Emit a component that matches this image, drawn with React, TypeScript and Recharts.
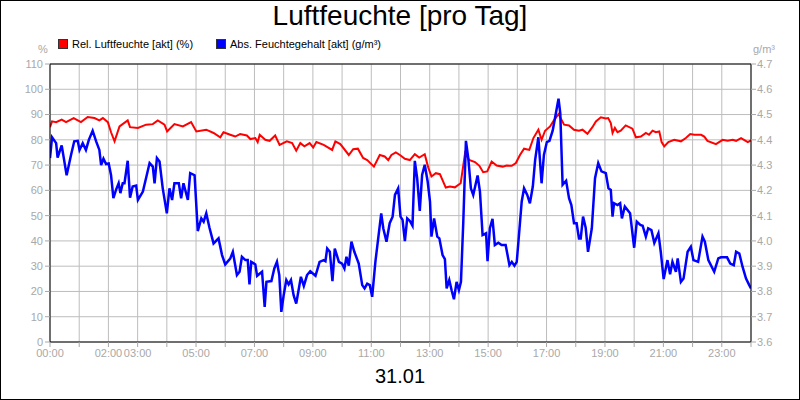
import React from 'react';
import { LineChart, Line, XAxis, YAxis, CartesianGrid, ReferenceLine } from 'recharts';

// hours of day, 0..24
const hourTicks = [0, 1, 2, 3, 4, 5, 6, 7, 8, 9, 10, 11, 12, 13, 14, 15, 16, 17, 18, 19, 20, 21, 22, 23, 24];
const labeledHours = [0, 2, 3, 5, 7, 9, 11, 13, 15, 17, 19, 21, 23];
const relTicks = [0, 10, 20, 30, 40, 50, 60, 70, 80, 90, 100, 110];
const absTicks = [3.6, 3.7, 3.8, 3.9, 4.0, 4.1, 4.2, 4.3, 4.4, 4.5, 4.6, 4.7];

// Rel. Luftfeuchte (%)
const relTimes = [
  0, 0.07, 0.21, 0.4, 0.55, 0.81, 1.06, 1.29, 1.52, 1.69, 1.81, 1.98, 2.09, 2.21, 2.38, 2.66, 2.74, 3.01, 3.29, 3.52,
  3.69, 3.92, 4.01, 4.26, 4.55, 4.83, 5.01, 5.35, 5.6, 5.83, 5.94, 6.17, 6.34, 6.51, 6.74, 6.86, 7.03, 7.11, 7.18, 7.37,
  7.52, 7.71, 7.86, 8.11, 8.29, 8.43, 8.57, 8.71, 8.89, 9.01, 9.12, 9.37, 9.66, 9.77, 9.94, 10.23, 10.38, 10.54, 10.72, 10.86,
  11.09, 11.29, 11.46, 11.58, 11.69, 11.84, 11.98, 12.15, 12.32, 12.49, 12.64, 12.83, 12.95, 13.06, 13.21, 13.35, 13.55, 13.69, 13.86, 14.06,
  14.21, 14.35, 14.55, 14.7, 14.83, 14.97, 15.12, 15.29, 15.5, 15.63, 15.81, 15.95, 16.09, 16.23, 16.41, 16.55, 16.72, 16.83, 16.95, 17.12,
  17.23, 17.41, 17.6, 17.77, 17.94, 18.11, 18.23, 18.4, 18.57, 18.69, 18.86, 19.03, 19.11, 19.2, 19.26, 19.34, 19.43, 19.54, 19.71, 19.94,
  20.06, 20.23, 20.4, 20.51, 20.63, 20.74, 20.86, 20.94, 21.03, 21.17, 21.37, 21.6, 21.77, 21.92, 22.06, 22.29, 22.4, 22.51, 22.8, 23.03,
  23.2, 23.37, 23.49, 23.66, 23.89, 24,
];
const relValues = [
  85, 87.3, 87, 88, 87, 88.6, 87, 89, 88.6, 87.7, 88.6, 87, 83, 79.4, 85.3, 87.7, 85, 84.7, 86, 86.2,
  87.7, 86, 83.3, 86.2, 85.3, 87, 83.3, 84, 82.7, 81, 83, 82, 81.3, 82.3, 81.7, 80.3, 80.7, 79.1, 82, 80,
  79.6, 81.7, 78, 79.4, 78.7, 75.7, 78.7, 77.4, 78.7, 77, 79.1, 78, 76, 79.4, 78.3, 74, 76.3, 76.5, 72.8, 72,
  69.4, 74, 73.4, 72, 74, 75, 74, 72.5, 72, 74.3, 73, 74.3, 69, 65.5, 66.8, 66.4, 61.1, 61.5, 61.2, 62.8,
  74.7, 72, 71.2, 69.7, 67.2, 67.5, 71.4, 69.8, 69.4, 69.8, 69.7, 70.8, 74, 76.5, 76, 80.7, 84, 80, 83.6, 85.3,
  87.3, 90.2, 86, 85.7, 84, 83.6, 84, 82.4, 85, 87.3, 88.9, 88.4, 88.6, 86.6, 82.7, 84.7, 83, 83.6, 85.7, 84.4,
  81, 81.3, 82.7, 82, 83.6, 83, 83.3, 79.1, 77.4, 79.1, 80, 79.4, 80.7, 82.3, 82, 82, 81.3, 79.6, 78.3, 80,
  79.6, 80, 79.6, 80.7, 79.1, 79.8,
];

// Abs. Feuchtegehalt (g/m³)
const absTimes = [
  0, 0.07, 0.21, 0.26, 0.4, 0.57, 0.72, 0.83, 0.95, 1.01, 1.12, 1.23, 1.33, 1.46, 1.58, 1.69, 1.75, 1.83, 1.92, 2.01,
  2.09, 2.17, 2.26, 2.35, 2.41, 2.49, 2.55, 2.66, 2.74, 2.83, 2.95, 3.01, 3.18, 3.41, 3.52, 3.58, 3.66, 3.75, 3.86, 4.0,
  4.09, 4.18, 4.26, 4.41, 4.49, 4.57, 4.72, 4.8, 4.95, 5.06, 5.18, 5.26, 5.35, 5.46, 5.6, 5.77, 5.89, 6.0, 6.17, 6.26,
  6.4, 6.49, 6.57, 6.69, 6.77, 6.83, 6.89, 7.03, 7.09, 7.26, 7.35, 7.41, 7.58, 7.68, 7.77, 7.85, 7.92, 8.0, 8.09, 8.17,
  8.25, 8.34, 8.43, 8.51, 8.59, 8.69, 8.8, 8.91, 9.09, 9.23, 9.37, 9.43, 9.49, 9.58, 9.67, 9.75, 9.89, 10.0, 10.08, 10.15,
  10.23, 10.32, 10.42, 10.57, 10.69, 10.77, 10.86, 10.95, 11.03, 11.14, 11.34, 11.41, 11.52, 11.63, 11.73, 11.81, 11.92, 12.0, 12.07, 12.15,
  12.23, 12.32, 12.41, 12.49, 12.57, 12.66, 12.74, 12.83, 12.93, 13.01, 13.06, 13.15, 13.26, 13.33, 13.44, 13.52, 13.58, 13.67, 13.75, 13.83,
  13.92, 14.0, 14.07, 14.15, 14.24, 14.32, 14.41, 14.49, 14.64, 14.72, 14.81, 14.93, 14.98, 15.06, 15.15, 15.23, 15.35, 15.46, 15.6, 15.73,
  15.81, 15.9, 15.98, 16.03, 16.15, 16.23, 16.34, 16.43, 16.53, 16.61, 16.72, 16.83, 16.91, 17.01, 17.1, 17.21, 17.31, 17.41, 17.47, 17.55,
  17.67, 17.77, 17.85, 17.94, 18.03, 18.11, 18.17, 18.25, 18.34, 18.42, 18.55, 18.66, 18.77, 18.88, 19.03, 19.12, 19.2, 19.26, 19.31, 19.43,
  19.52, 19.58, 19.68, 19.86, 20.0, 20.09, 20.21, 20.29, 20.4, 20.48, 20.59, 20.69, 20.83, 20.91, 21.01, 21.14, 21.23, 21.31, 21.43, 21.49,
  21.6, 21.69, 21.83, 21.94, 22.03, 22.19, 22.34, 22.42, 22.54, 22.74, 22.88, 22.97, 23.18, 23.29, 23.41, 23.49, 23.6, 23.71, 23.83, 23.94,
  24,
];
const absValues = [
  4.328, 4.41, 4.387, 4.33, 4.378, 4.26, 4.34, 4.394, 4.396, 4.36, 4.387, 4.36, 4.4, 4.436, 4.394, 4.36, 4.3, 4.325, 4.304, 4.306,
  4.26, 4.169, 4.202, 4.228, 4.189, 4.228, 4.228, 4.317, 4.171, 4.215, 4.219, 4.162, 4.195, 4.308, 4.294, 4.228, 4.328, 4.314, 4.208, 4.109,
  4.208, 4.162, 4.228, 4.228, 4.169, 4.228, 4.162, 4.268, 4.26, 4.039, 4.089, 4.076, 4.109, 4.052, 3.99, 4.01, 3.944, 3.907, 3.93, 3.957,
  3.865, 3.878, 3.937, 3.924, 3.924, 3.828, 3.917, 3.907, 3.862, 3.878, 3.739, 3.838, 3.841, 3.891, 3.917, 3.865, 3.719, 3.785, 3.845, 3.828,
  3.845, 3.785, 3.752, 3.805, 3.858, 3.822, 3.865, 3.88, 3.862, 3.917, 3.924, 3.92, 3.97, 3.957, 3.841, 3.97, 3.917, 3.91, 3.891, 3.937,
  3.902, 3.997, 3.957, 3.91, 3.825, 3.812, 3.831, 3.825, 3.779, 3.917, 4.109, 4.05, 3.997, 4.07, 4.096, 4.182, 4.208, 4.096, 4.083, 3.999,
  4.089, 4.079, 4.06, 4.317, 4.248, 4.119, 4.261, 4.301, 4.235, 4.156, 4.017, 4.089, 4.017, 4.01, 3.944, 3.928, 3.812, 3.845, 3.805, 3.769,
  3.838, 3.805, 3.838, 4.076, 4.396, 4.328, 4.208, 4.182, 4.259, 4.195, 4.023, 4.03, 3.92, 4.05, 4.087, 3.984, 3.993, 3.984, 3.984, 3.904,
  3.917, 3.902, 3.917, 3.986, 4.156, 4.208, 4.182, 4.149, 4.215, 4.321, 4.41, 4.228, 4.34, 4.391, 4.396, 4.436, 4.499, 4.563, 4.506, 4.222,
  4.238, 4.169, 4.142, 4.07, 4.07, 4.01, 4.01, 4.096, 4.052, 3.957, 4.05, 4.248, 4.308, 4.275, 4.268, 4.208, 4.202, 4.096, 4.149, 4.142,
  4.149, 4.089, 4.136, 4.109, 3.973, 4.076, 4.063, 4.06, 4.017, 4.05, 4.043, 3.992, 4.03, 3.957, 3.849, 3.924, 3.868, 3.917, 3.878, 3.931,
  3.838, 3.851, 3.957, 3.977, 3.924, 3.917, 4.017, 3.997, 3.924, 3.878, 3.931, 3.935, 3.935, 3.91, 3.904, 3.957, 3.95, 3.898, 3.851, 3.825,
  3.812,
];

const relData = relTimes.map((t, i) => ({ t, rel: relValues[i] }));
const absData = absTimes.map((t, i) => ({ t, abs: absValues[i] }));

const font = 'Liberation Sans, Arial, Helvetica, sans-serif';
const tickStyle = { fill: '#a8a8a8', fontSize: 11, fontFamily: font };
const gridColor = '#bdbdbd';

const fmtHour = (h: number) => (labeledHours.includes(h) ? `${String(h).padStart(2, '0')}:00` : '');

const LegendItem = ({ color, label, left }: { color: string; label: string; left: number }) => (
  <div style={{ position: 'absolute', left, top: 38, display: 'flex', alignItems: 'center', fontSize: 11, fontFamily: font, color: '#000' }}>
    <span style={{ width: 8, height: 8, background: color, border: '1px solid #333', marginRight: 4, display: 'inline-block' }} />
    {label}
  </div>
);

export default function App() {
  return (
    <div style={{ position: 'absolute', left: 0, top: 0, width: 800, height: 400, background: '#fff', fontFamily: font }}>
      <LineChart width={800} height={400} margin={{ top: 64, right: 0, bottom: 28, left: 0 }}>
        <CartesianGrid yAxisId="left" stroke={gridColor} strokeWidth={1} />
        <XAxis
          dataKey="t"
          type="number"
          domain={[0, 24]}
          ticks={hourTicks}
          interval={0}
          tickFormatter={fmtHour}
          tick={tickStyle}
          tickSize={5}
          tickMargin={2}
          height={30}
          axisLine={{ stroke: '#000' }}
          tickLine={{ stroke: '#a8a8a8' }}
          allowDataOverflow
        />
        <YAxis
          yAxisId="left"
          domain={[0, 110]}
          ticks={relTicks}
          interval={0}
          width={50}
          tick={tickStyle}
          tickSize={5}
          tickMargin={2}
          axisLine={{ stroke: '#000' }}
          tickLine={{ stroke: '#a8a8a8' }}
        />
        <YAxis
          yAxisId="right"
          orientation="right"
          domain={[3.6, 4.7]}
          ticks={absTicks}
          interval={0}
          width={49}
          tick={tickStyle}
          tickSize={5}
          tickMargin={1}
          tickFormatter={(v: number) => v.toFixed(1)}
          axisLine={{ stroke: '#000' }}
          tickLine={{ stroke: '#a8a8a8' }}
        />
        <ReferenceLine yAxisId="left" y={110} stroke="#000" strokeWidth={1} />
        <Line
          yAxisId="left"
          data={relData}
          dataKey="rel"
          type="linear"
          stroke="#ff0000"
          strokeWidth={2}
          dot={false}
          isAnimationActive={false}
        />
        <Line
          yAxisId="right"
          data={absData}
          dataKey="abs"
          type="linear"
          stroke="#0000ff"
          strokeWidth={2.5}
          dot={false}
          isAnimationActive={false}
        />
      </LineChart>

      <div style={{ position: 'absolute', left: 0, top: 0, width: 800, textAlign: 'center', fontSize: 28, color: '#000' }}>
        Luftfeuchte [pro Tag]
      </div>
      <LegendItem color="#ff0000" label="Rel. Luftfeuchte [akt] (%)" left={58} />
      <LegendItem color="#0000ff" label="Abs. Feuchtegehalt [akt] (g/m³)" left={216} />
      <div style={{ position: 'absolute', left: 38, top: 43, fontSize: 11, color: '#a8a8a8' }}>%</div>
      <div style={{ position: 'absolute', left: 753, top: 43, fontSize: 11, color: '#a8a8a8' }}>g/m³</div>
      <div style={{ position: 'absolute', left: 0, top: 365, width: 800, textAlign: 'center', fontSize: 20, color: '#000' }}>
        31.01
      </div>
      <div style={{ position: 'absolute', left: 0, top: 0, width: 800, height: 400, boxSizing: 'border-box', border: '1px solid #000', pointerEvents: 'none' }} />
    </div>
  );
}
